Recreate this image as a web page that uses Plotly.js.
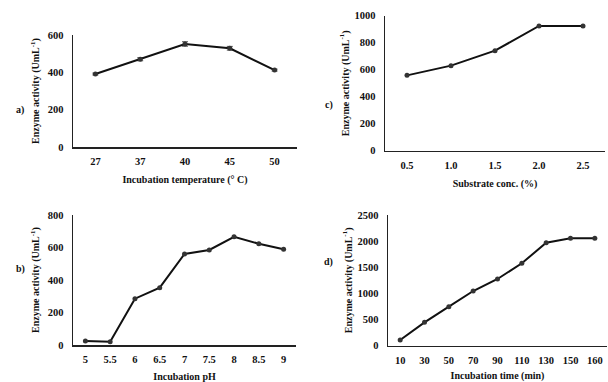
<!DOCTYPE html>
<html><head><meta charset="utf-8">
<script src="https://cdn.plot.ly/plotly-3.0.1.min.js"></script>
<style>html,body{margin:0;padding:0;background:#fff}</style>
</head><body><div id="chart" style="width:608px;height:382px"></div>
<script>
// Panel a: temperature
const tempCats = ["27","37","40","45","50"];
const tempVals = [391, 470, 552, 529, 412];
const tempErr = [5, 8, 12, 10, 5];
// Panel b: pH
const phCats = ["5","5.5","6","6.5","7","7.5","8","8.5","9"];
const phVals = [25, 20, 285, 353, 560, 585, 666, 623, 589];
// Panel c: substrate conc.
const subCats = ["0.5","1.0","1.5","2.0","2.5"];
const subVals = [558, 630, 741, 924, 924];
// Panel d: incubation time
const timeCats = ["10","30","50","70","90","110","130","150","160"];
const timeVals = [109, 447, 746, 1046, 1276, 1576, 1970, 2054, 2054];

const W = 608, H = 382;
const fx = p => p / W, fy = p => (H - p) / H;
const FAM = '"Liberation Serif", "Times New Roman", serif';

function tr(x, y, xa, ya, err) {
  const t = {x: x, y: y, xaxis: xa, yaxis: ya, type: 'scatter', mode: 'lines+markers',
    line: {color: '#111', width: 2}, marker: {color: '#333', size: 5}, showlegend: false,
    cliponaxis: false};
  if (err) t.error_y = {type: 'data', array: err, color: '#555', thickness: 1, width: 3};
  return t;
}

const tickFont = {family: FAM, size: 10.5, color: '#111', weight: 'bold'};
const titleFont = {family: FAM, size: 10, color: '#111', weight: 'bold'};
const ytitle = 'Enzyme activity (UmL<sup>-1</sup>)';

function xax(dom, anchor, title, n) {
  return {domain: dom, anchor: anchor, type: 'category', range: [-0.5, n - 0.5],
    showline: true, linecolor: '#222', linewidth: 1.5, ticks: '', showgrid: false, zeroline: false,
    tickfont: tickFont, ticklabelstandoff: 4,
    title: {text: title, font: titleFont, standoff: 10}};
}
function yax(dom, anchor, range, dtick, standoff) {
  return {domain: dom, anchor: anchor, range: range, dtick: dtick,
    showline: true, linecolor: '#222', linewidth: 1.5, ticks: '', showgrid: false, zeroline: false,
    tickfont: tickFont, ticklabelstandoff: 6,
    title: {text: ytitle, font: titleFont, standoff: standoff}};
}

const data = [
  tr(tempCats, tempVals, 'x', 'y', tempErr),
  tr(subCats, subVals, 'x2', 'y2'),
  tr(phCats, phVals, 'x3', 'y3'),
  tr(timeCats, timeVals, 'x4', 'y4')
];

const layout = {
  width: W, height: H, margin: {l: 0, r: 0, t: 0, b: 0},
  paper_bgcolor: '#fff', plot_bgcolor: '#fff',
  font: {family: FAM},
  xaxis: xax([fx(73), fx(297)], 'y', 'Incubation temperature (° C)', tempCats.length),
  yaxis: yax([fy(147), fy(35)], 'x', [0, 600], 200, 6),
  xaxis2: xax([fx(385), fx(605)], 'y2', 'Substrate conc. (%)', subCats.length),
  yaxis2: yax([fy(150.7), fy(15.7)], 'x2', [0, 1000], 200, 3),
  xaxis3: xax([fx(73), fx(296)], 'y3', 'Incubation pH', phCats.length),
  yaxis3: yax([fy(345), fy(215)], 'x3', [0, 800], 200, 6),
  xaxis4: xax([fx(388), fx(607)], 'y4', 'Incubation time (min)', timeCats.length),
  yaxis4: yax([fy(345.7), fy(215)], 'x4', [0, 2500], 500, 3),
  annotations: [
    {text: 'a)', x: fx(14), y: fy(102)},
    {text: 'c)', x: fx(329), y: fy(97)},
    {text: 'b)', x: fx(14), y: fy(277)},
    {text: 'd)', x: fx(329), y: fy(270)}
  ].map(a => Object.assign(a, {xref: 'paper', yref: 'paper', showarrow: false,
    font: {family: FAM, size: 10, color: '#111', weight: 'bold'}}))
};

Plotly.newPlot('chart', data, layout, {displayModeBar: false, staticPlot: true});
</script></body></html>
